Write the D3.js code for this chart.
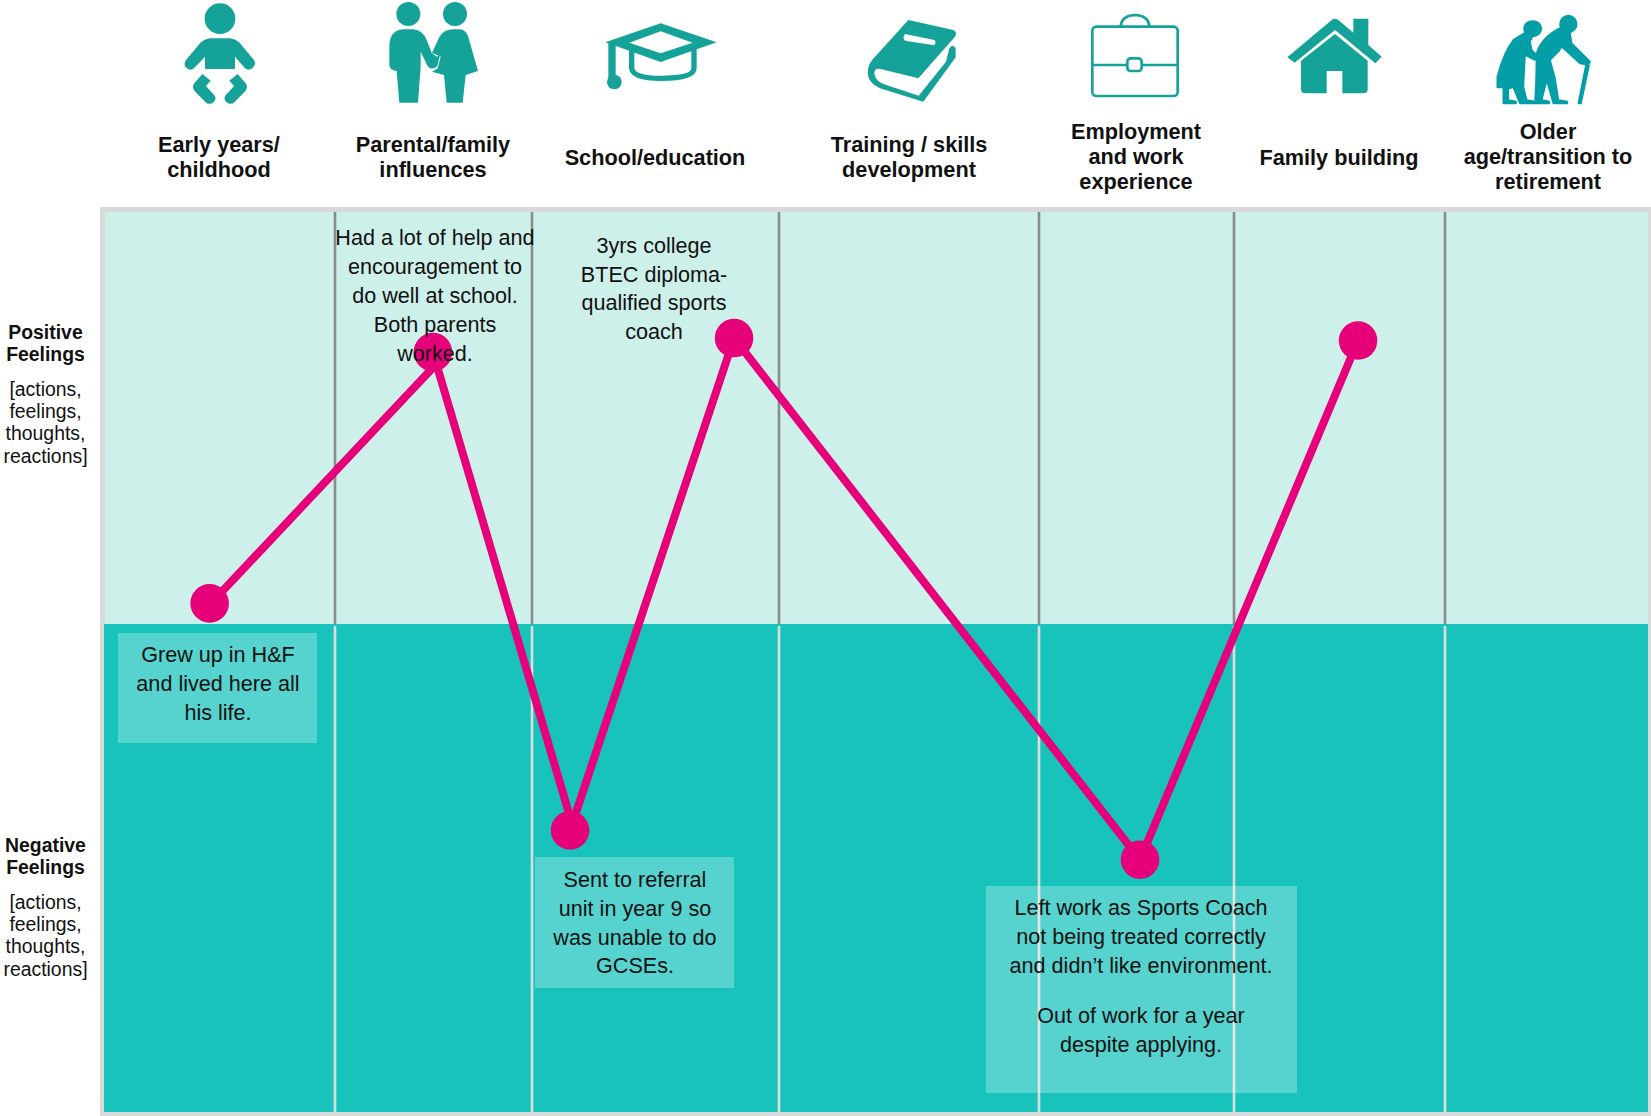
<!DOCTYPE html>
<html>
<head>
<meta charset="utf-8">
<script src="https://cdn.jsdelivr.net/npm/d3@7"></script>
<style>
  html, body { margin: 0; padding: 0; background: #fff; }
  svg { display: block; }
  text { font-family: "Liberation Sans", Arial, sans-serif; text-anchor: middle; fill: #111; }
</style>
</head>
<body>
<svg id="journey" width="1651" height="1116"></svg>
<script>
// life stages across the top
const stages = [
  ["Early years/", "childhood"],
  ["Parental/family", "influences"],
  ["School/education"],
  ["Training / skills", "development"],
  ["Employment", "and work", "experience"],
  ["Family building"],
  ["Older", "age/transition to", "retirement"]
];

// journey: position along the stages (stage index + fraction) and feeling (-100..100)
const journeyStage = [0.455, 1.497, 2.154, 2.818, 4.518, 5.588];
const journeyFeeling = [5, 66, -42.3, 69.4, -48.3, 68.8];

// the connectors in the picture don't quite meet the dots, so they get their own vertices
const connectorStage = [0.46, 1.548, 1.497, 2.17, 2.154, 2.818, 4.518, 5.588];
const connectorFeeling = [5, 64.8, 66, -42.3, -42.3, 69.4, -48.3, 68.8];

const notes = [
  ["Grew up in H&F", "and lived here all", "his life."],
  ["Had a lot of help and", "encouragement to", "do well at school.", "Both parents", "worked."],
  ["Sent to referral", "unit in year 9 so", "was unable to do", "GCSEs."],
  ["3yrs college", "BTEC diploma-", "qualified sports", "coach"],
  ["Left work as Sports Coach", "not being treated correctly", "and didn\u2019t like environment.", "Out of work for a year", "despite applying."]
];

const sideTitles = [["Positive", "Feelings"], ["Negative", "Feelings"]];
const sideBody = ["[actions,", "feelings,", "thoughts,", "reactions]"];

// layout, all in page pixels
const columnEdges = [105, 335, 532, 779, 1039, 1234, 1445, 1648];
const plotTop = 212, plotMid = 624, plotBottom = 1112;
const stageCentres = [219, 433, 655, 909, 1136, 1339, 1548];
const noteLayout = [
  {cx: 218, first: 662, step: 28.8, box: [118, 633, 317, 743]},
  {cx: 435, first: 245, step: 29},
  {cx: 635, first: 887, step: 28.8, box: [535, 857, 734, 988]},
  {cx: 654, first: 252.7, step: 28.8},
  {cx: 1141, first: 915, step: 28.8, gapAfter: 2, gap: 22, box: [986, 886, 1297, 1093]}
];

const x = d3.scaleLinear().domain(d3.range(columnEdges.length)).range(columnEdges);
const y = d3.scaleLinear().domain([100, 0, -100]).range([plotTop, plotMid, plotBottom]);

const svg = d3.select("#journey");

// frame and the two feeling bands
svg.append("rect").attr("x", 100).attr("y", 207).attr("width", 1551).attr("height", 909).attr("fill", "#d9d9d9");
svg.append("rect").attr("x", x(0)).attr("y", y(100)).attr("width", x(7) - x(0)).attr("height", y(0) - y(100)).attr("fill", "#cef0ea");
svg.append("rect").attr("x", x(0) - 1).attr("y", y(0)).attr("width", x(7) - x(0) + 1).attr("height", y(-100) - y(0)).attr("fill", "#18c3bc");

// column separators, dark on the pale band and pale on the dark band
const inner = d3.range(1, 7);
svg.append("g").attr("stroke", "#878d8d").attr("stroke-width", 2.6)
  .selectAll("line").data(inner).join("line")
    .attr("x1", d => x(d)).attr("x2", d => x(d))
    .attr("y1", y(100)).attr("y2", y(0));
svg.append("g").attr("stroke", "#dcdcdc").attr("stroke-width", 2.6)
  .selectAll("line").data(inner).join("line")
    .attr("x1", d => x(d)).attr("x2", d => x(d))
    .attr("y1", y(0) + 2).attr("y2", y(-100));

// note backgrounds
const boxed = noteLayout.filter(d => d.box);
svg.append("g").selectAll("rect").data(boxed).join("rect")
  .attr("x", d => d.box[0]).attr("y", d => d.box[1])
  .attr("width", d => d.box[2] - d.box[0]).attr("height", d => d.box[3] - d.box[1])
  .attr("fill", "#fff").attr("fill-opacity", 0.27);

// journey line
const connector = d3.line().x(d => x(d[0])).y(d => y(d[1]));
svg.append("path")
  .attr("d", connector(d3.zip(connectorStage, connectorFeeling)))
  .attr("fill", "none").attr("stroke", "#e6007a").attr("stroke-width", 8);
svg.append("g").selectAll("circle").data(d3.zip(journeyStage, journeyFeeling)).join("circle")
  .attr("cx", d => x(d[0])).attr("cy", d => y(d[1])).attr("r", 19.3).attr("fill", "#e6007a");

// note texts
notes.forEach((lines, i) => {
  const l = noteLayout[i];
  svg.append("g").attr("font-size", 21.6).selectAll("text").data(lines).join("text")
    .attr("x", l.cx)
    .attr("y", (d, j) => l.first + j * l.step + (l.gap && j > l.gapAfter ? l.gap : 0))
    .text(d => d);
});

// stage headings
stages.forEach((lines, i) => {
  const top = lines.length == 3 ? 139 : lines.length == 2 ? 152 : 165;
  svg.append("g").attr("font-size", 21.7).attr("font-weight", "bold").selectAll("text").data(lines).join("text")
    .attr("x", stageCentres[i]).attr("y", (d, j) => top + j * 25).text(d => d);
});

// side labels
[{top: 339, body: 396}, {top: 852, body: 909}].forEach((p, i) => {
  const g = svg.append("g").attr("font-size", 19.4);
  g.selectAll(".t").data(sideTitles[i]).join("text").attr("class", "t")
    .attr("font-weight", "bold").attr("x", 45.5).attr("y", (d, j) => p.top + j * 22).text(d => d);
  g.selectAll(".b").data(sideBody).join("text").attr("class", "b")
    .attr("x", 45.5).attr("y", (d, j) => p.body + j * 22.2).text(d => d);
});

// icons, traced by hand; each is drawn in 3x coordinates of its own corner
const icon = (ox, colour) => svg.append("g")
  .attr("transform", `translate(${ox},0) scale(${1 / 3})`)
  .attr("fill", colour).attr("stroke", "none");

const teal = "#15a299";
const baby = icon(170, teal);
baby.append("circle").attr("cx", 150).attr("cy", 56).attr("r", 46);
baby.append("path").attr("d", "M105,207V170L72,205Q58,215 46,200Q40,188 50,178L90,130Q105,115 125,115H175Q195,115 210,130L250,178Q260,190 250,202Q238,215 225,205L195,170V207Z");
baby.append("path").attr("d", "M97,222L122,242L108,258L135,288Q140,300 128,308Q116,316 106,306L73,272Q65,260 73,250Z");
baby.append("path").attr("d", "M203,222L178,242L192,258L165,288Q160,300 172,308Q184,316 194,306L227,272Q235,260 227,250Z");

const couple = icon(170, teal);
couple.append("circle").attr("cx", 715).attr("cy", 42).attr("r", 36);
couple.append("circle").attr("cx", 855).attr("cy", 42).attr("r", 36);
couple.append("path").attr("d", "M658,135Q660,88 705,88H730Q758,90 770,120L785,158L800,170L810,165L802,198Q792,208 780,205Q772,200 768,188L752,155V200L744,308H688L680,213Q658,210 658,195Z");
couple.append("path").attr("d", "M786,158L808,112Q820,88 850,88H870Q890,90 896,115L924,213L887,225L878,308H830L822,225L786,215L803,205L812,170Z");

const cap = icon(590, teal);
cap.append("path").attr("fill-rule", "evenodd").attr("d", "M212,70L380,127L212,186L46,127ZM212,94L118,128L212,160L308,128Z");
cap.append("path").attr("d", "M55,127H77V235H55Z");
cap.append("circle").attr("cx", 73).attr("cy", 246).attr("r", 22);
cap.append("path").attr("d", "M125,148V205Q130,235 212,235Q312,235 312,205V145").attr("fill", "none").attr("stroke", teal).attr("stroke-width", 16);

const book = icon(590, teal);
book.append("path").attr("d", "M955,60L1090,90Q1103,97 1095,110L985,235L872,207Q852,202 853,222Q857,243 880,252L986,287L1068,185L1078,145Q1088,130 1097,145V172L1000,305L870,265Q835,250 833,220Q832,190 860,165Z");
book.append("path").attr("d", "M945,102L1033,120Q1040,125 1033,136L945,122Q936,115 945,102Z").attr("fill", "#fff");

const briefcase = icon(1070, "none");
briefcase.attr("stroke", teal).attr("stroke-width", 8);
briefcase.append("rect").attr("x", 67).attr("y", 80).attr("width", 256).attr("height", 208).attr("rx", 12);
briefcase.append("path").attr("d", "M152,78Q155,47 195,45Q235,47 238,78");
briefcase.append("path").attr("d", "M67,195H323");
briefcase.append("rect").attr("x", 172).attr("y", 175).attr("width", 43).attr("height", 38).attr("rx", 10).attr("fill", "#fff");

const house = icon(1070, teal);
house.append("path").attr("d", "M652,172L785,60Q795,53 805,60L850,98V56H895V135L935,170L916,190L795,90L674,188Z");
house.append("path").attr("d", "M693,182L795,102L893,182V268Q893,280 880,280H817V213H770V280H705Q693,280 693,268Z");

const elders = icon(1480, "#039ea7").attr("stroke", "#039ea7").attr("stroke-width", 5).attr("stroke-linejoin", "round");
elders.append("ellipse").attr("cx", 158).attr("cy", 86).attr("rx", 26).attr("ry", 23);
elders.append("path").attr("d", "M135,98L160,104L150,125L155,150L170,165L165,180L135,165L130,260L140,300L165,305V310H120L100,262L85,265V300L108,305V310H70V262L52,262V230Q70,160 100,120Z");
elders.append("circle").attr("cx", 265).attr("cy", 72).attr("r", 25);
elders.append("path").attr("d", "M245,82L270,100L275,130L330,185L325,195L300,190L245,140L235,155L210,180L225,235L235,300L262,305V310H220L200,240L185,300L208,305V310H165L168,250L170,160Q185,110 245,82Z");
elders.append("path").attr("d", "M318,195L327,197L303,310H295Z");
</script>
</body>
</html>
